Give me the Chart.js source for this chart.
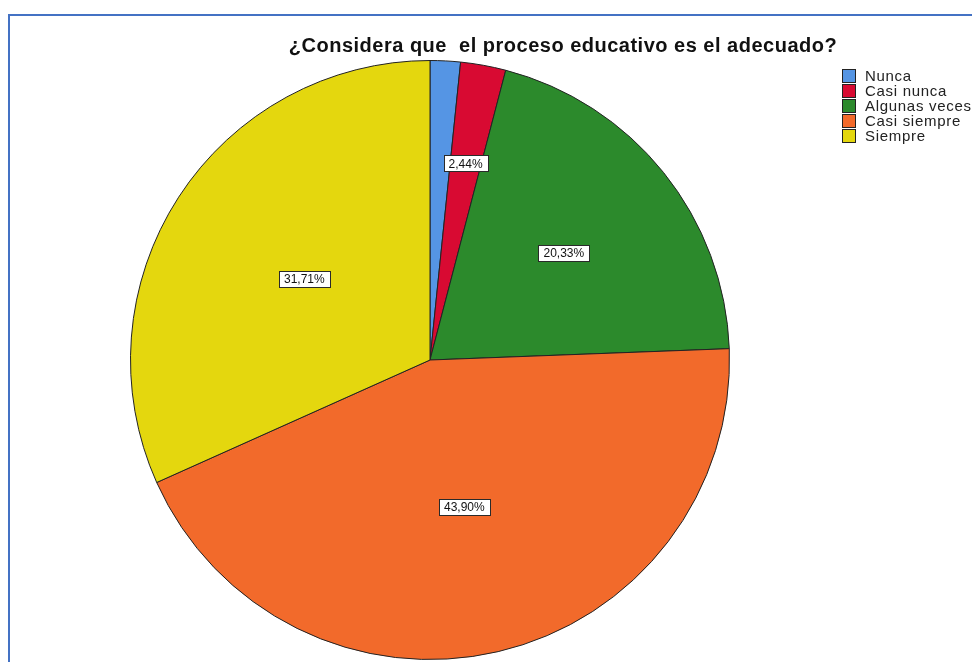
<!DOCTYPE html>
<html>
<head>
<meta charset="utf-8">
<script src="https://cdn.jsdelivr.net/npm/chart.js@4.4.1/dist/chart.umd.min.js"></script>
<style>
  html, body { margin: 0; padding: 0; background: #ffffff; overflow: hidden; }
  #wrap { position: relative; width: 972px; height: 662px; }
  #frame { position: absolute; left: 8px; top: 14px; width: 1000px; height: 700px;
           border-left: 2px solid #4472C4; border-top: 2px solid #4472C4; box-sizing: border-box; }
  canvas { position: absolute; left: 0; top: 0; }
</style>
</head>
<body>
<div id="wrap">
  <div id="frame"></div>
  <canvas id="c" width="972" height="662"></canvas>
</div>
<script>
// ---- data ----
const titleText = "¿Considera que  el proceso educativo es el adecuado?";
const categories = ["Nunca", "Casi nunca", "Algunas veces", "Casi siempre", "Siempre"];
const percentages = [1.63, 2.44, 20.33, 43.90, 31.71];
const showLabel = [false, true, true, true, true];

// ---- styles ----
const sliceColors = ["#5595E4", "#D80A32", "#2C8A2C", "#F26A2B", "#E4D70E"];
const labelRadius = [0.6, 0.667, 0.573, 0.504, 0.5];
const FONT = "Arial, 'Liberation Sans', sans-serif";

function fmt(v) { return v.toFixed(2).replace('.', ',') + '%'; }

const decorPlugin = {
  id: 'decor',
  afterDraw(chart) {
    const ctx = chart.ctx;
    const meta = chart.getDatasetMeta(0);
    // value labels
    ctx.save();
    ctx.font = "12px " + FONT;
    ctx.textAlign = 'center';
    ctx.textBaseline = 'middle';
    meta.data.forEach((arc, i) => {
      if (!showLabel[i]) return;
      const p = arc.getProps(['x', 'y', 'startAngle', 'endAngle', 'outerRadius'], true);
      const mid = (p.startAngle + p.endAngle) / 2;
      const r = p.outerRadius * labelRadius[i];
      const x = p.x + Math.cos(mid) * r;
      const y = p.y + Math.sin(mid) * r;
      const txt = fmt(chart.data.datasets[0].data[i]);
      const w = ctx.measureText(txt).width + 10;
      const h = 16;
      ctx.fillStyle = '#ffffff';
      ctx.fillRect(Math.round(x - w / 2) + 0.5, Math.round(y - h / 2) + 0.5, Math.round(w), h);
      ctx.strokeStyle = '#2a2a2a';
      ctx.lineWidth = 1;
      ctx.strokeRect(Math.round(x - w / 2) + 0.5, Math.round(y - h / 2) + 0.5, Math.round(w), h);
      ctx.fillStyle = '#111111';
      ctx.fillText(txt, x, y + 1);
    });
    // title
    ctx.font = "bold 20px " + FONT;
    ctx.letterSpacing = '0.5px';
    ctx.textAlign = 'center';
    ctx.textBaseline = 'alphabetic';
    ctx.fillStyle = '#111111';
    ctx.fillText(titleText, 563, 52);
    // legend
    ctx.font = "15px " + FONT;
    ctx.letterSpacing = '0.7px';
    ctx.textAlign = 'left';
    ctx.textBaseline = 'middle';
    chart.data.labels.forEach((lab, i) => {
      const top = 69 + i * 15;
      ctx.fillStyle = sliceColors[i];
      ctx.fillRect(842, top, 14, 14);
      ctx.strokeStyle = '#222222';
      ctx.lineWidth = 1;
      ctx.strokeRect(842.5, top + 0.5, 13, 13);
      ctx.fillStyle = '#222222';
      ctx.fillText(lab, 865, top + 7.5);
    });
    ctx.letterSpacing = '0px';
    ctx.restore();
  }
};

new Chart(document.getElementById('c'), {
  type: 'pie',
  data: {
    labels: categories,
    datasets: [{
      data: percentages,
      backgroundColor: sliceColors,
      borderColor: '#222222',
      borderWidth: 1
    }]
  },
  options: {
    responsive: false,
    animation: false,
    devicePixelRatio: 1,
    layout: { padding: { left: 130, right: 242, top: 60, bottom: 2 } },
    plugins: {
      legend: { display: false },
      title: { display: false },
      tooltip: { enabled: false }
    }
  },
  plugins: [decorPlugin]
});
</script>
</body>
</html>
